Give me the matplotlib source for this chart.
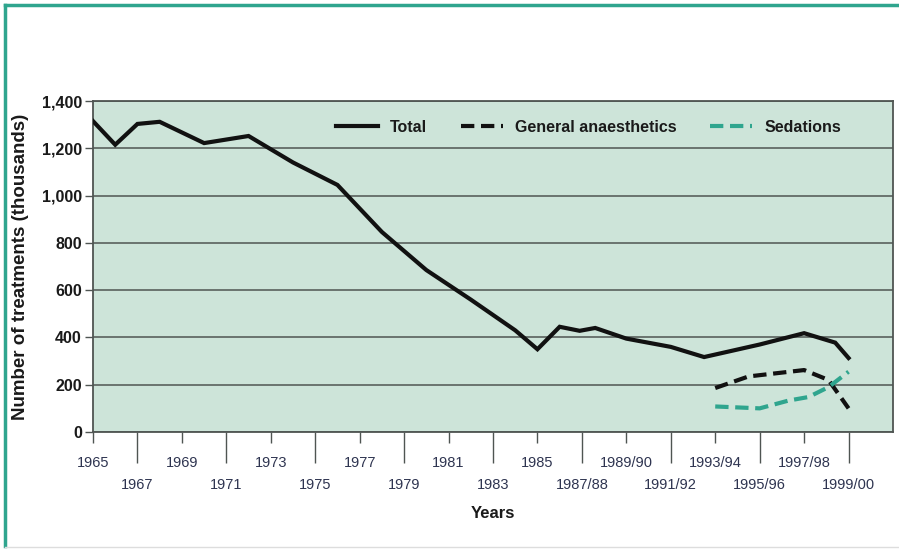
import matplotlib
matplotlib.use("Agg")
import matplotlib.pyplot as plt
from matplotlib.lines import Line2D

# ---- data ----
total_years = [1965, 1966, 1967, 1968, 1970, 1972, 1974, 1976, 1978, 1980, 1982,
               1984, 1985, 1986, 1986.9, 1987.6, 1989, 1991, 1992.5, 1995, 1997, 1998.4, 1999]
total_vals = [1315, 1215, 1303, 1312, 1222, 1252, 1140, 1045, 846, 685, 560,
              430, 350, 445, 428, 440, 395, 360, 317, 370, 418, 378, 313]

ga_years = [1993, 1994.5, 1997, 1998.1, 1999]
ga_vals = [186, 235, 262, 220, 100]

sed_years = [1993, 1995, 1996.3, 1997.2, 1998.1, 1999]
sed_vals = [108, 100, 133, 148, 190, 255]

row1_ticks = [1965, 1969, 1973, 1977, 1981, 1985, 1989, 1993, 1997]
row1_labels = ["1965", "1969", "1973", "1977", "1981", "1985", "1989/90", "1993/94", "1997/98"]
row2_ticks = [1967, 1971, 1975, 1979, 1983, 1987, 1991, 1995, 1999]
row2_labels = ["1967", "1971", "1975", "1979", "1983", "1987/88", "1991/92", "1995/96", "1999/00"]

y_ticks = [0, 200, 400, 600, 800, 1000, 1200, 1400]
y_labels = ["0", "200", "400", "600", "800", "1,000", "1,200", "1,400"]

# ---- style ----
FONT = ["Liberation Sans", "DejaVu Sans"]
plt.rcParams["font.family"] = FONT
TEAL = "#2fa58e"
BG = "#cde4d9"
GRID = "#4f5552"
TICKCOL = "#2e3450"

W, H = 899, 551
fig = plt.figure(figsize=(W / 100, H / 100), dpi=100)
fig.patch.set_facecolor("white")

ax = fig.add_axes([93 / W, (H - 432) / H, 800 / W, 331 / H])
ax.set_facecolor(BG)

ax.plot(total_years, total_vals, color="#111111", lw=3.0, solid_joinstyle="miter",
        label="Total", zorder=3)
ax.plot(ga_years, ga_vals, color="#111111", lw=3.0, dashes=(3.2, 1.6),
        label="General anaesthetics", zorder=3)
ax.plot(sed_years, sed_vals, color=TEAL, lw=3.0, dashes=(3.2, 1.6),
        label="Sedations", zorder=3)

ax.set_xlim(1965, 2001)
ax.set_ylim(0, 1400)

ax.set_yticks(y_ticks)
ax.set_yticklabels(y_labels, fontsize=11.5, fontweight="bold", color="#1a1a1a")
ax.yaxis.grid(True, color=GRID, lw=1.1)
ax.set_axisbelow(True)
ax.tick_params(axis="y", length=6, width=1.0, color=GRID, pad=2)

ax.set_xticks(row1_ticks)
ax.set_xticklabels(row1_labels, fontsize=10.5, color=TICKCOL)
ax.set_xticks(row2_ticks, minor=True)
ax.set_xticklabels(row2_labels, minor=True, fontsize=10.5, color=TICKCOL)
ax.tick_params(axis="x", which="major", length=8, width=1.0, color=GRID, pad=9)
ax.tick_params(axis="x", which="minor", length=22, width=1.0, color=GRID, pad=11)

for s in ax.spines.values():
    s.set_color(GRID)
    s.set_linewidth(1.3)

ax.set_ylabel("Number of treatments (thousands)", fontsize=13.5, fontweight="bold",
              color="#1a1a1a")
ax.set_xlabel("Years", fontsize=12, fontweight="bold", color="#1a1a1a")
ax.yaxis.set_label_coords(-0.08, 0.5)
ax.xaxis.set_label_coords(0.5, -0.225)

leg = ax.legend(loc="center left", bbox_to_anchor=((336 - 93) / 800, (432 - 127) / 331),
                ncol=3, frameon=False, handlelength=2.6, handletextpad=0.8,
                columnspacing=2.1, borderpad=0, borderaxespad=0,
                prop={"family": FONT, "weight": "bold", "size": 11.5})
for t in leg.get_texts():
    t.set_color("#1a1a1a")

# figure frame
fig.add_artist(Line2D([5 / W, 5 / W], [1 - 5 / H, 1 - 546 / H], color=TEAL, lw=2.5,
                      transform=fig.transFigure))
fig.add_artist(Line2D([5 / W, 1.0], [1 - 5 / H, 1 - 5 / H], color=TEAL, lw=2.5,
                      transform=fig.transFigure))
fig.add_artist(Line2D([5 / W, 1.0], [1 - 547 / H, 1 - 547 / H], color="#dddddd", lw=1.0,
                      transform=fig.transFigure))

fig.savefig("out.png", dpi=100)
